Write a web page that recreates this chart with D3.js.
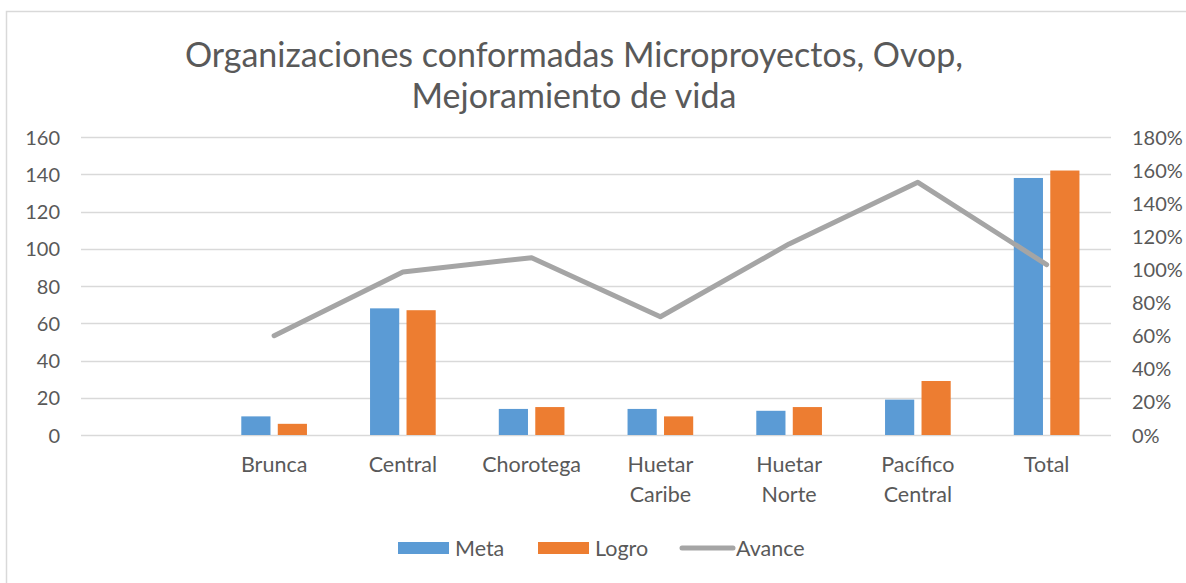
<!DOCTYPE html>
<html>
<head>
<meta charset="utf-8">
<script src="https://cdn.jsdelivr.net/npm/d3@7"></script>
<style>
  body { margin: 0; background: #fff; }
  svg text { font-family: Lato, 'Open Sans', sans-serif; fill: #595959; }
</style>
</head>
<body>
<svg width="1186" height="583"></svg>
<script>
const categories = ['', 'Brunca', 'Central', 'Chorotega', 'Huetar Caribe', 'Huetar Norte', 'Pacífico Central', 'Total']
const meta = [null, 10, 68, 14, 14, 13, 19, 138]
const logro = [null, 6, 67, 15, 10, 15, 29, 142]
const avance = [null, 60, 98.5, 107.1, 71.4, 115.4, 152.6, 102.9]
const leftTicks = [0, 20, 40, 60, 80, 100, 120, 140, 160]
const rightTicks = [0, 20, 40, 60, 80, 100, 120, 140, 160, 180]
const titleLines = ['Organizaciones conformadas Microproyectos, Ovop,', 'Mejoramiento de vida']

const colors = { Meta: '#5b9bd5', Logro: '#ed7d31', Avance: '#a5a5a5' }
const margin = { top: 137, right: 75, bottom: 148, left: 81 }
const W = 1186
const H = 583
const width = W - margin.left - margin.right
const height = H - margin.top - margin.bottom

const svg = d3.select('svg')

// chart border
svg.append('rect')
  .attr('x', 6.5).attr('y', 11.5)
  .attr('width', W).attr('height', H)
  .attr('fill', 'none').attr('stroke', '#d9d9d9').attr('stroke-width', 1.5)

svg.append('text')
  .attr('text-anchor', 'middle')
  .attr('font-size', 34)
  .selectAll('tspan')
  .data(titleLines)
  .join('tspan')
  .attr('x', 574)
  .attr('y', (d, i) => 67 + i * 41)
  .text(d => d)

const g = svg.append('g').attr('transform', `translate(${margin.left},${margin.top})`)

const x0 = d3.scaleBand().domain(categories).range([0, width]).padding(0)
const x1 = d3.scaleBand()
  .domain(['Meta', 'Logro'])
  .range([x0.bandwidth() * 0.245, x0.bandwidth() * 0.755])
  .paddingInner(0.2)
const y = d3.scaleLinear().domain([0, 160]).range([height, 0])
const y2 = d3.scaleLinear().domain([0, 180]).range([height, 0])

// gridlines
g.append('g')
  .selectAll('line')
  .data(leftTicks)
  .join('line')
  .attr('x1', 0).attr('x2', width)
  .attr('y1', d => Math.round(y(d)) + 0.5).attr('y2', d => Math.round(y(d)) + 0.5)
  .attr('stroke', '#d9d9d9').attr('stroke-width', 1.5)

const axisL = g.append('g').call(d3.axisLeft(y).tickValues(leftTicks).tickSize(0).tickPadding(21))
axisL.select('.domain').remove()
axisL.selectAll('text').attr('font-size', 20).attr('dy', '0.35em')

const axisR = g.append('g')
  .attr('transform', `translate(${width},0)`)
  .call(d3.axisRight(y2).tickValues(rightTicks).tickSize(0).tickPadding(21).tickFormat(d => d + '%'))
axisR.select('.domain').remove()
axisR.selectAll('text').attr('font-size', 20).attr('dy', '0.35em')

// category labels (wrapped)
const xl = g.append('g')
  .selectAll('text')
  .data(categories)
  .join('text')
  .attr('text-anchor', 'middle')
  .attr('font-size', 21.5)
  .attr('transform', d => `translate(${x0(d) + x0.bandwidth() / 2},${height + 37})`)
xl.selectAll('tspan')
  .data(d => d.split(' '))
  .join('tspan')
  .attr('x', 0)
  .attr('y', (d, i) => i * 30)
  .text(d => d)

// bars
const rows = categories.map((c, i) => ({ c, Meta: meta[i], Logro: logro[i], Avance: avance[i] }))
  .filter(d => d.Meta != null)

const groups = g.append('g')
  .selectAll('g')
  .data(rows)
  .join('g')
  .attr('transform', d => `translate(${x0(d.c)},0)`)

groups.selectAll('rect')
  .data(d => ['Meta', 'Logro'].map(k => ({ k, v: d[k] })))
  .join('rect')
  .attr('x', d => x1(d.k))
  .attr('width', x1.bandwidth())
  .attr('y', d => y(d.v))
  .attr('height', d => y(0) - y(d.v))
  .attr('fill', d => colors[d.k])

// line
const line = d3.line()
  .x(d => x0(d.c) + x0.bandwidth() / 2)
  .y(d => y2(d.Avance))

g.append('path')
  .datum(rows)
  .attr('d', line)
  .attr('fill', 'none')
  .attr('stroke', colors.Avance)
  .attr('stroke-width', 5)
  .attr('stroke-linecap', 'round')
  .attr('stroke-linejoin', 'round')

// legend
const legend = svg.append('g').attr('transform', 'translate(398,548)')
const items = [
  { k: 'Meta', x: 0, type: 'rect' },
  { k: 'Logro', x: 140, type: 'rect' },
  { k: 'Avance', x: 282, type: 'line' }
]
items.forEach(it => {
  const li = legend.append('g').attr('transform', `translate(${it.x},0)`)
  if (it.type === 'rect') {
    li.append('rect').attr('x', 0).attr('y', -6).attr('width', 51).attr('height', 12).attr('fill', colors[it.k])
    li.append('text').attr('x', 57).attr('dy', '0.35em').attr('font-size', 21.5).text(it.k)
  } else {
    li.append('line').attr('x1', 2).attr('x2', 53).attr('y1', 0).attr('y2', 0)
      .attr('stroke', colors[it.k]).attr('stroke-width', 5).attr('stroke-linecap', 'round')
    li.append('text').attr('x', 56).attr('dy', '0.35em').attr('font-size', 21.5).text(it.k)
  }
})
</script>
</body>
</html>
